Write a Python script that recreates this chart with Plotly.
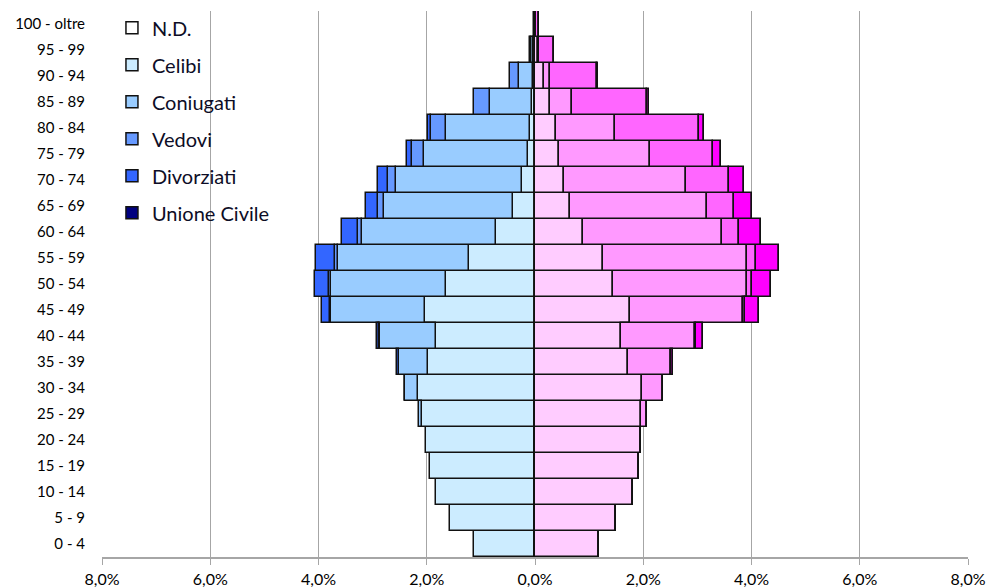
import plotly.graph_objects as go

ages = ["0 - 4", "5 - 9", "10 - 14", "15 - 19", "20 - 24", "25 - 29", "30 - 34",
        "35 - 39", "40 - 44", "45 - 49", "50 - 54", "55 - 59", "60 - 64", "65 - 69",
        "70 - 74", "75 - 79", "80 - 84", "85 - 89", "90 - 94", "95 - 99", "100 - oltre"]

# Maschi (% of total population)
m_nd = [0] * 21
m_celibi = [1.13, 1.57, 1.83, 1.94, 2.01, 2.09, 2.17, 1.98, 1.82, 2.04, 1.64, 1.22,
            0.72, 0.40, 0.24, 0.13, 0.10, 0.05, 0.03, 0.03, 0.0]
m_coniugati = [0, 0, 0, 0, 0, 0.06, 0.23, 0.54, 1.05, 1.72, 2.13, 2.42,
               2.47, 2.39, 2.33, 1.92, 1.55, 0.79, 0.27, 0.04, 0.0]
m_vedovi = [0, 0, 0, 0, 0, 0, 0, 0, 0.01, 0.03, 0.045, 0.06,
            0.08, 0.12, 0.155, 0.22, 0.27, 0.28, 0.16, 0.03, 0.01]
m_divorziati = [0, 0, 0, 0, 0, 0, 0.01, 0.03, 0.04, 0.14, 0.245, 0.34,
                0.29, 0.22, 0.17, 0.10, 0.055, 0, 0, 0, 0]
m_unione = [0] * 21

# Femmine
f_nd = [0] * 21
f_celibi = [1.18, 1.49, 1.81, 1.92, 1.95, 1.96, 1.97, 1.71, 1.59, 1.75, 1.445, 1.25,
            0.88, 0.65, 0.535, 0.44, 0.39, 0.28, 0.17, 0.05, 0.01]
f_coniugate = [0, 0, 0, 0, 0, 0.10, 0.39, 0.81, 1.365, 2.085, 2.48, 2.66,
               2.58, 2.52, 2.26, 1.685, 1.08, 0.41, 0.10, 0.03, 0.0]
f_vedove = [0, 0, 0, 0, 0, 0, 0, 0, 0.02, 0.04, 0.085, 0.17,
            0.31, 0.50, 0.79, 1.16, 1.555, 1.38, 0.87, 0.27, 0.06]
f_divorziate = [0, 0, 0, 0, 0, 0, 0, 0.035, 0.12, 0.265, 0.35, 0.435,
                0.40, 0.34, 0.28, 0.15, 0.10, 0.04, 0.02, 0, 0]
f_unione = [0] * 21

names = ["N.D.", "Celibi", "Coniugati", "Vedovi", "Divorziati", "Unione Civile"]
male_series = [m_nd, m_celibi, m_coniugati, m_vedovi, m_divorziati, m_unione]
female_series = [f_nd, f_celibi, f_coniugate, f_vedove, f_divorziate, f_unione]
male_colors = ["#FFFFFF", "#CCECFF", "#99CCFF", "#6699FF", "#3366FF", "#000080"]
female_colors = ["#FFFFFF", "#FFCCFF", "#FF99FF", "#FF66FF", "#FF00FF", "#990099"]

tick_vals = [-8, -6, -4, -2, 0, 2, 4, 6, 8]
tick_text = [f"{abs(v):.1f}%".replace(".", ",") for v in tick_vals]

fig = go.Figure()
for name, vals, col in zip(names, male_series, male_colors):
    fig.add_trace(go.Bar(
        y=ages, x=[-v for v in vals], orientation="h", name=name,
        legendgroup=name, showlegend=True,
        marker=dict(color=col, line=dict(color="#111111", width=1.5)),
    ))
for name, vals, col in zip(names, female_series, female_colors):
    fig.add_trace(go.Bar(
        y=ages, x=vals, orientation="h", name=name,
        legendgroup=name, showlegend=False,
        marker=dict(color=col, line=dict(color="#111111", width=1.5)),
    ))

fig.update_layout(
    width=988, height=587,
    barmode="relative", bargap=0,
    plot_bgcolor="white", paper_bgcolor="white",
    margin=dict(l=102, r=20, t=11, b=30, autoexpand=False),
    font=dict(family="Lato, 'Open Sans', sans-serif", color="#000000"),
    legend=dict(
        x=0.0115, y=1.005, xanchor="left", yanchor="top",
        bgcolor="rgba(255,255,255,0)",
        font=dict(size=20, color="#0d0d26"),
        traceorder="grouped", tracegroupgap=8,
        itemwidth=30,
    ),
    xaxis=dict(
        range=[-8, 8], tickvals=tick_vals, ticktext=tick_text,
        showgrid=True, gridcolor="#A6A6A6", gridwidth=1,
        zeroline=False, showline=True, linecolor="#A6A6A6", linewidth=2,
        ticks="outside", ticklen=6, tickcolor="#A6A6A6",
        tickfont=dict(size=16), ticklabelstandoff=1, automargin=False,
    ),
    yaxis=dict(
        type="category", showgrid=False, zeroline=False, showline=False,
        ticks="", tickfont=dict(size=15), ticklabelstandoff=16, automargin=False,
    ),
    showlegend=True,
)

fig.write_html("out.html", config={"displayModeBar": False},
               post_script=["document.body.style.margin='0';"])
